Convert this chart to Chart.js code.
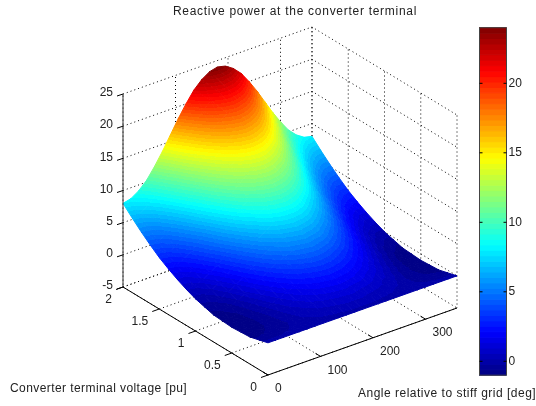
<!DOCTYPE html>
<html>
<head>
<meta charset="utf-8">
<script src="https://cdn.jsdelivr.net/npm/chart.js@4"></script>
<style>
body { margin: 0; background: #fff; }
canvas { display: block; }
</style>
</head>
<body>
<canvas id="myChart" width="536" height="406"></canvas>
<script>
// Data
var angles = [0, 15, 30, 45, 60, 75, 90, 105, 120, 135, 150, 165, 180, 195, 210, 225, 240, 255, 270, 285, 300, 315, 330, 345, 360];
var voltages = [0, 0.125, 0.25, 0.375, 0.5, 0.625, 0.75, 0.875, 1, 1.125, 1.25, 1.375, 1.5, 1.625, 1.75, 1.875, 2];
var q00 = [0, 0, 0, 0, 0, 0, 0, 0, 0, 0, 0, 0, 0, 0, 0, 0, 0, 0, 0, 0, 0, 0, 0, 0, 0];
var q01 = [-0.4, -0.4, -0.4, -0.3, -0.2, -0.1, 0.1, 0.2, 0.3, 0.4, 0.5, 0.6, 0.6, 0.6, 0.5, 0.4, 0.3, 0.2, 0.1, -0.1, -0.2, -0.3, -0.4, -0.4, -0.4];
var q02 = [-0.8, -0.7, -0.6, -0.5, -0.3, 0, 0.3, 0.5, 0.8, 1, 1.1, 1.2, 1.3, 1.2, 1.1, 1, 0.8, 0.5, 0.3, 0, -0.3, -0.5, -0.6, -0.7, -0.8];
var q03 = [-0.9, -0.9, -0.7, -0.5, -0.2, 0.2, 0.6, 1, 1.3, 1.6, 1.9, 2, 2.1, 2, 1.9, 1.6, 1.3, 1, 0.6, 0.2, -0.2, -0.5, -0.7, -0.9, -0.9];
var q04 = [-1, -0.9, -0.7, -0.4, 0, 0.5, 1, 1.5, 2, 2.4, 2.7, 2.9, 3, 2.9, 2.7, 2.4, 2, 1.5, 1, 0.5, 0, -0.4, -0.7, -0.9, -1];
var q05 = [-0.9, -0.9, -0.6, -0.2, 0.3, 0.9, 1.6, 2.2, 2.8, 3.3, 3.7, 4, 4.1, 4, 3.7, 3.3, 2.8, 2.2, 1.6, 0.9, 0.3, -0.2, -0.6, -0.9, -0.9];
var q06 = [-0.8, -0.6, -0.4, 0.1, 0.8, 1.5, 2.3, 3, 3.8, 4.4, 4.9, 5.1, 5.3, 5.1, 4.9, 4.4, 3.8, 3, 2.3, 1.5, 0.8, 0.1, -0.4, -0.6, -0.8];
var q07 = [-0.4, -0.3, 0, 0.6, 1.3, 2.2, 3.1, 4, 4.8, 5.5, 6.1, 6.4, 6.6, 6.4, 6.1, 5.5, 4.8, 4, 3.1, 2.2, 1.3, 0.6, 0, -0.3, -0.4];
var q08 = [0, 0.1, 0.5, 1.2, 2, 3, 4, 5, 6, 6.8, 7.5, 7.9, 8, 7.9, 7.5, 6.8, 6, 5, 4, 3, 2, 1.2, 0.5, 0.1, 0];
var q09 = [0.6, 0.7, 1.2, 1.9, 2.8, 3.9, 5.1, 6.2, 7.3, 8.2, 9, 9.4, 9.6, 9.4, 9, 8.2, 7.3, 6.2, 5.1, 3.9, 2.8, 1.9, 1.2, 0.7, 0.6];
var q10 = [1.3, 1.4, 1.9, 2.7, 3.8, 5, 6.3, 7.6, 8.8, 9.8, 10.6, 11.1, 11.3, 11.1, 10.6, 9.8, 8.8, 7.6, 6.3, 5, 3.8, 2.7, 1.9, 1.4, 1.3];
var q11 = [2.1, 2.3, 2.8, 3.7, 4.8, 6.1, 7.6, 9, 10.3, 11.5, 12.3, 12.9, 13.1, 12.9, 12.3, 11.5, 10.3, 9, 7.6, 6.1, 4.8, 3.7, 2.8, 2.3, 2.1];
var q12 = [3, 3.2, 3.8, 4.8, 6, 7.5, 9, 10.6, 12, 13.2, 14.2, 14.8, 15, 14.8, 14.2, 13.2, 12, 10.6, 9, 7.5, 6, 4.8, 3.8, 3.2, 3];
var q13 = [4.1, 4.3, 4.9, 6, 7.3, 8.9, 10.6, 12.2, 13.8, 15.2, 16.2, 16.8, 17.1, 16.8, 16.2, 15.2, 13.8, 12.2, 10.6, 8.9, 7.3, 6, 4.9, 4.3, 4.1];
var q14 = [5.3, 5.5, 6.2, 7.3, 8.8, 10.4, 12.3, 14.1, 15.8, 17.2, 18.3, 19, 19.3, 19, 18.3, 17.2, 15.8, 14.1, 12.3, 10.4, 8.8, 7.3, 6.2, 5.5, 5.3];
var q15 = [6.6, 6.8, 7.6, 8.8, 10.3, 12.1, 14.1, 16, 17.8, 19.4, 20.6, 21.3, 21.6, 21.3, 20.6, 19.4, 17.8, 16, 14.1, 12.1, 10.3, 8.8, 7.6, 6.8, 6.6];
var q16 = [8, 8.3, 9.1, 10.3, 12, 13.9, 16, 18.1, 20, 21.7, 22.9, 23.7, 24, 23.7, 22.9, 21.7, 20, 18.1, 16, 13.9, 12, 10.3, 9.1, 8.3, 8];
var reactive = [q00, q01, q02, q03, q04, q05, q06, q07, q08, q09, q10, q11, q12, q13, q14, q15, q16];
var angleTicks = [0, 100, 200, 300];
var voltageTicks = [0, 0.5, 1, 1.5, 2];
var heightTicks = [-5, 0, 5, 10, 15, 20, 25];
var colorTicks = [0, 5, 10, 15, 20];

var angleMax = 360, voltageMax = 2, heightMin = -5, heightMax = 25;
var colorMin = -1, colorMax = 24, colorLevels = 64;

var ctx = document.getElementById('myChart').getContext('2d');

// Fixed 3D view, one point of the box to one point on the page
function project(a, v, z) {
    return {
        x: 268 + a / angleMax * 189 - v / voltageMax * 145,
        y: 375 - a / angleMax * 67 - v / voltageMax * 88 - (z - heightMin) / (heightMax - heightMin) * 193
    };
}

// MATLAB jet, 64 steps
function jetLevel(level) {
    var t = (level + 0.5) / colorLevels;
    function ch(c) {
        return Math.round(255 * Math.max(0, Math.min(1, 1.5 - Math.abs(4 * t - c))));
    }
    return 'rgb(' + ch(3) + ',' + ch(2) + ',' + ch(1) + ')';
}
function levelOf(value) {
    return Math.min(colorLevels - 1, Math.max(0, Math.floor((value - colorMin) / (colorMax - colorMin) * colorLevels)));
}

// Banded fill for one triangle, colour follows the height across it like shading interp
function bandFill(p, z) {
    var det = (p[1].x - p[0].x) * (p[2].y - p[0].y) - (p[2].x - p[0].x) * (p[1].y - p[0].y);
    var gx = ((z[1] - z[0]) * (p[2].y - p[0].y) - (z[2] - z[0]) * (p[1].y - p[0].y)) / det;
    var gy = ((p[1].x - p[0].x) * (z[2] - z[0]) - (p[2].x - p[0].x) * (z[1] - z[0])) / det;
    var n = gx * gx + gy * gy;
    if (Math.abs(det) < 0.01 || n < 1e-9) {
        return jetLevel(levelOf((z[0] + z[1] + z[2]) / 3));
    }
    var lo = Math.min(z[0], z[1], z[2]) - 0.5;
    var hi = Math.max(z[0], z[1], z[2]) + 0.5;
    var g = ctx.createLinearGradient(
        p[0].x + (lo - z[0]) * gx / n, p[0].y + (lo - z[0]) * gy / n,
        p[0].x + (hi - z[0]) * gx / n, p[0].y + (hi - z[0]) * gy / n
    );
    var step = (colorMax - colorMin) / colorLevels;
    for (var k = levelOf(lo); k <= levelOf(hi); k++) {
        var t0 = (colorMin + k * step - lo) / (hi - lo);
        var t1 = (colorMin + (k + 1) * step - lo) / (hi - lo);
        g.addColorStop(Math.max(0, t0), jetLevel(k));
        g.addColorStop(Math.min(1, t1), jetLevel(k));
    }
    return g;
}

var datasets = [];
function addLine(points, color, dash, width) {
    datasets.push({
        data: points, showLine: true, fill: false, borderColor: color,
        borderWidth: width || 1, borderDash: dash || [], pointRadius: 0
    });
}
function addCell(points, color) {
    datasets.push({
        data: points, showLine: true, fill: 'shape', backgroundColor: color,
        borderColor: color, borderWidth: 1, pointRadius: 0
    });
}
function addTriangle(p, z) {
    addCell([p[0], p[1], p[2], p[0]], bandFill(p, z));
}

// Dotted grid on the two back walls and on the floor
var dots = [1, 3];
heightTicks.forEach(function(z) {
    addLine([project(0, voltageMax, z), project(angleMax, voltageMax, z), project(angleMax, 0, z)], '#000', dots);
});
angleTicks.forEach(function(a) {
    addLine([project(a, 0, heightMin), project(a, voltageMax, heightMin), project(a, voltageMax, heightMax)], '#000', dots);
});
voltageTicks.forEach(function(v) {
    addLine([project(0, v, heightMin), project(angleMax, v, heightMin), project(angleMax, v, heightMax)], '#000', dots);
});
addLine([project(angleMax, voltageMax, heightMin), project(angleMax, voltageMax, heightMax)], '#000', dots);

// Surface, far cells first so the near ones cover them
for (var i = angles.length - 2; i >= 0; i--) {
    for (var j = voltages.length - 2; j >= 0; j--) {
        var z00 = reactive[j][i], z10 = reactive[j][i + 1], z01 = reactive[j + 1][i], z11 = reactive[j + 1][i + 1];
        var p00 = project(angles[i], voltages[j], z00);
        var p10 = project(angles[i + 1], voltages[j], z10);
        var p01 = project(angles[i], voltages[j + 1], z01);
        var p11 = project(angles[i + 1], voltages[j + 1], z11);
        addTriangle([p10, p11, p01], [z10, z11, z01]);
        addTriangle([p00, p10, p01], [z00, z10, z01]);
    }
}

// Axis lines and ticks
addLine([project(0, voltageMax, heightMin), project(0, voltageMax, heightMax)], '#333', [], 1);
addLine([project(0, voltageMax, heightMin), project(0, 0, heightMin), project(angleMax, 0, heightMin)], '#000');
heightTicks.forEach(function(z) {
    var p = project(0, voltageMax, z);
    addLine([p, { x: p.x - 6, y: p.y + 2 }], '#000');
});
voltageTicks.forEach(function(v) {
    var p = project(0, v, heightMin);
    addLine([p, { x: p.x - 7, y: p.y + 2.5 }], '#000');
});
angleTicks.forEach(function(a) {
    var p = project(a, 0, heightMin);
    addLine([p, { x: p.x - 5, y: p.y - 3 }], '#000');
});

// Colorbar
var barLeft = 479.5, barRight = 506.5;
function barY(value) {
    return 361.3 - value * 13.9;
}
for (var k = 0; k < colorLevels; k++) {
    var low = colorMin + (colorMax - colorMin) * k / colorLevels;
    var high = colorMin + (colorMax - colorMin) * (k + 1) / colorLevels;
    addCell([
        { x: barLeft, y: barY(low) }, { x: barRight, y: barY(low) },
        { x: barRight, y: barY(high) }, { x: barLeft, y: barY(high) },
        { x: barLeft, y: barY(low) }
    ], jetLevel(k));
}
addLine([
    { x: barLeft, y: barY(colorMin) }, { x: barRight, y: barY(colorMin) },
    { x: barRight, y: barY(colorMax) }, { x: barLeft, y: barY(colorMax) },
    { x: barLeft, y: barY(colorMin) }
], '#444');
colorTicks.forEach(function(value) {
    addLine([{ x: barLeft, y: barY(value) }, { x: barLeft + 3, y: barY(value) }], '#000');
    addLine([{ x: barRight - 3, y: barY(value) }, { x: barRight, y: barY(value) }], '#000');
});

// Later entries paint on top
datasets.forEach(function(d, index) {
    d.order = datasets.length - index;
});

var textPlugin = {
    id: 'plotText',
    afterDraw: function(chart) {
        var c = chart.ctx, sx = chart.scales.x, sy = chart.scales.y;
        function put(text, x, y, align, spacing) {
            c.letterSpacing = (spacing || 0) + 'px';
            c.textAlign = align;
            c.fillText(text, sx.getPixelForValue(x), sy.getPixelForValue(y));
        }
        c.save();
        c.fillStyle = '#222';
        c.font = '12px "Liberation Sans"';
        c.textBaseline = 'middle';
        put('Reactive power at the converter terminal', 295, 12, 'center', 0.72);
        put('Converter terminal voltage [pu]', 10, 389, 'left', 0.42);
        put('Angle relative to stiff grid [deg]', 358, 394, 'left', 0.5);
        heightTicks.forEach(function(z) {
            var p = project(0, voltageMax, z);
            put(String(z), p.x - 10, p.y - 1, 'right');
        });
        voltageTicks.forEach(function(v) {
            var p = project(0, v, heightMin);
            put(String(v), p.x - 11, p.y + 13, 'right');
        });
        angleTicks.forEach(function(a) {
            var p = project(a, 0, heightMin);
            put(String(a), p.x + 7, p.y + 14, 'left');
        });
        colorTicks.forEach(function(value) {
            put(String(value), barRight + 2, barY(value), 'left');
        });
        c.restore();
    }
};

var myChart = new Chart(ctx, {
    type: 'scatter',
    data: { datasets: datasets },
    options: {
        responsive: false,
        animation: false,
        events: [],
        layout: { padding: 0 },
        plugins: { legend: { display: false }, tooltip: { enabled: false }, title: { display: false } },
        scales: {
            x: { type: 'linear', display: false, min: 0, max: 536 },
            y: { type: 'linear', display: false, min: 0, max: 406, reverse: true }
        }
    },
    plugins: [textPlugin]
});
</script>
</body>
</html>
